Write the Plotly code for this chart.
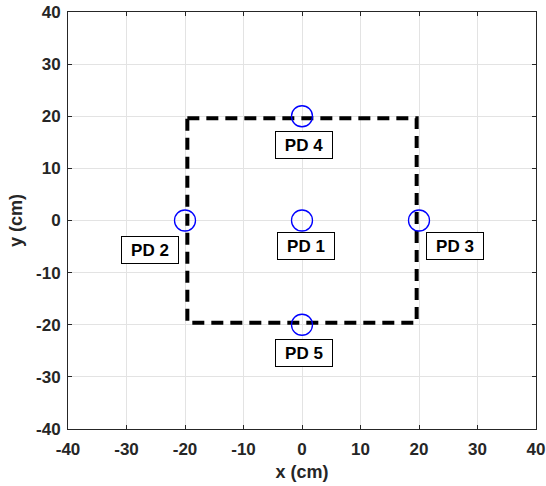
import plotly.graph_objects as go

# Data
pd_names = ["PD 1", "PD 2", "PD 3", "PD 4", "PD 5"]
pd_x = [0, -20, 20, 0, 0]
pd_y = [0, 0, 0, 20, -20]
label_x = [0.7, -26, 26.2, 0.3, 0.3]
label_y = [-4.9, -5.7, -4.9, 14.5, -25.4]
square_x = [-19.6, 19.6, 19.6, -19.6, -19.6]
square_y = [19.6, 19.6, -19.6, -19.6, 19.6]
tick_vals = [-40, -30, -20, -10, 0, 10, 20, 30, 40]

FONT = "Liberation Sans, Arial"

fig = go.Figure()
fig.add_trace(go.Scatter(x=square_x, y=square_y, mode="lines",
                         line=dict(color="black", width=4, dash="12px,7px"),
                         showlegend=False, hoverinfo="skip"))
fig.add_trace(go.Scatter(x=pd_x, y=pd_y, mode="markers",
                         marker=dict(symbol="circle-open", size=21,
                                     color="blue", line=dict(width=1.3, color="blue")),
                         showlegend=False))

for n, lx, ly in zip(pd_names, label_x, label_y):
    fig.add_annotation(x=lx, y=ly, text="<b>%s</b>" % n, showarrow=False,
                       font=dict(family=FONT, size=17, color="black"),
                       bordercolor="black", borderwidth=1, borderpad=3,
                       bgcolor="white", width=50, height=20)

axis_common = dict(range=[-40, 40], tickvals=tick_vals,
                   ticktext=["<b>%d</b>" % v for v in tick_vals],
                   showgrid=True, gridcolor="#e3e3e3", gridwidth=1, zeroline=False,
                   showline=True, linecolor="#262626", linewidth=1, mirror="ticks",
                   ticks="inside", ticklen=4, tickcolor="#262626",
                   tickfont=dict(family=FONT, size=17, color="#262626"),
                   fixedrange=True)

fig.update_xaxes(**axis_common, ticklabelstandoff=5,
                 title=dict(text="<b>x (cm)</b>", standoff=6,
                            font=dict(family=FONT, size=18, color="#262626")))
fig.update_yaxes(**axis_common, ticklabelstandoff=3,
                 title=dict(text="<b>y (cm)</b>", standoff=8,
                            font=dict(family=FONT, size=18, color="#262626")))

fig.update_layout(width=546, height=486,
                  margin=dict(l=68, r=10, t=12, b=57, autoexpand=False),
                  plot_bgcolor="white", paper_bgcolor="white",
                  font=dict(family=FONT))

fig.write_html("out.html")
